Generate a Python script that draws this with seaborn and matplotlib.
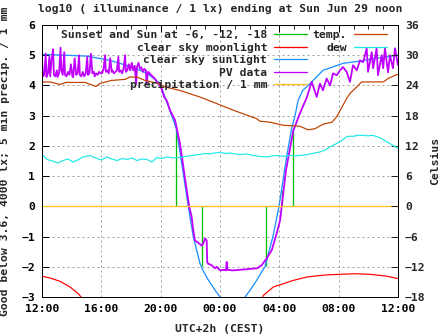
import numpy as np
import pandas as pd
import matplotlib
matplotlib.use("Agg")
import matplotlib.pyplot as plt
import seaborn as sns
from matplotlib.lines import Line2D
from matplotlib.ticker import MultipleLocator

# ---------------- data (hours since 12:00 noon) ----------------
tick_hours = [0, 4, 8, 12, 16, 20, 24]
tick_labels = ["12:00", "16:00", "20:00", "00:00", "04:00", "08:00", "12:00"]

sun_t = [0.0, 3.03, 4.58, 6.13, 7.08, 7.96, 8.41, 8.74, 9.05, 9.42, 9.86, 10.2, 10.65,
         10.85, 11.19, 11.46, 11.73, 12.0, 12.3, 13.4, 13.69, 14.02, 14.47, 14.81, 15.03,
         15.57, 15.98, 16.49, 16.83, 17.06, 17.26, 17.58, 18.07, 18.94, 20.29, 21.44,
         22.58, 24.0]
sun_v = [5.03, 4.97, 4.83, 4.6, 4.4, 4.07, 3.45, 3.0, 2.58, 1.42, 0.0, -1.0, -1.89,
         -2.12, -2.42, -2.62, -2.82, -3.0, -3.3, -3.3, -3.0, -2.78, -2.45, -2.17, -2.0,
         -1.0, 0.0, 1.63, 2.58, 3.0, 3.5, 3.84, 4.06, 4.5, 4.73, 4.81, 4.9, 5.0]

moon_t = [0.0, 0.6, 1.21, 1.89, 2.43, 2.63, 3.0, 14.6, 14.83, 14.92, 15.59, 16.27, 16.94,
          17.85, 18.5, 19.2, 20.02, 21.1, 22.11, 23.24, 24.0]
moon_v = [-2.31, -2.38, -2.48, -2.67, -2.88, -3.0, -3.3, -3.3, -3.05, -2.95, -2.67, -2.56,
          -2.45, -2.34, -2.3, -2.27, -2.25, -2.23, -2.25, -2.31, -2.39]

pv_t = [0.00, 0.05, 0.15, 0.25, 0.30, 0.40, 0.50, 0.55, 0.65, 0.75, 0.80, 0.90, 1.00, 1.05,
        1.15, 1.25, 1.30, 1.40, 1.50, 1.55, 1.65, 1.75, 1.85, 1.95, 2.05, 2.10, 2.20, 2.30,
        2.40, 2.50, 2.55, 2.65, 2.75, 2.85, 2.95, 3.05, 3.10, 3.20, 3.30, 3.40, 3.50, 3.55,
        3.65, 3.75, 3.85, 3.95, 4.05, 4.15, 4.25, 4.30, 4.40, 4.50, 4.60, 4.70, 4.75, 4.85,
        4.95, 5.05, 5.15, 5.20, 5.30, 5.40, 5.50, 5.60, 5.65, 5.75, 5.85, 5.95, 6.05, 6.15,
        6.25, 6.35, 6.40, 6.50, 6.60, 6.70, 6.80, 6.90, 7.00, 7.05, 7.15, 7.25, 7.35, 7.45,
        7.55, 7.65, 7.75, 7.85, 7.95, 8.05, 8.15, 8.25, 8.35, 8.45, 8.55, 8.63,
        8.97, 9.30, 9.53, 9.76, 9.93, 10.09, 10.18, 10.31, 10.52, 10.77, 10.87, 10.99, 11.10,
        11.14, 11.21, 11.44, 11.66, 11.78, 12.00, 12.27, 12.40, 12.45, 12.50, 12.88, 13.35,
        14.02, 14.50, 14.81, 15.15, 15.49, 15.82, 16.05, 16.45, 16.94, 17.39, 17.85, 18.18,
        18.52, 18.74, 18.94, 19.19, 19.42, 19.62, 19.87, 20.09, 20.29, 20.54, 20.76, 20.97,
        21.22, 21.44, 21.65, 21.89, 21.98, 22.23, 22.32, 22.56, 22.65, 22.90, 23.00, 23.12,
        23.33, 23.46, 23.66, 23.80, 24.00]
pv_v = [4.95, 4.30, 4.35, 5.05, 4.28, 4.40, 4.95, 4.30, 4.85, 5.20, 4.35, 4.30, 4.50, 4.28,
        4.40, 5.25, 4.50, 4.35, 5.10, 4.35, 4.30, 4.45, 4.35, 4.70, 4.30, 4.27, 4.90, 4.35,
        4.40, 5.00, 4.35, 4.30, 4.45, 4.30, 4.40, 4.95, 4.35, 4.40, 5.05, 4.40, 4.45, 4.30,
        4.40, 4.35, 4.45, 4.40, 4.40, 4.55, 5.00, 4.45, 4.50, 4.40, 4.90, 4.45, 4.50, 4.40,
        4.45, 4.50, 4.95, 4.45, 4.50, 4.40, 4.55, 5.00, 4.45, 4.50, 4.70, 4.50, 4.75, 4.50,
        4.65, 4.05, 4.60, 4.75, 4.55, 4.60, 4.45, 4.55, 4.50, 4.05, 4.45, 4.40, 4.35, 4.30,
        4.25, 4.20, 4.10, 4.05, 4.00, 3.90, 3.75, 3.60, 3.55, 3.45, 3.30, 3.18,
        2.85, 2.08, 1.30, 0.53, -0.02, -0.35, -0.73, -1.13, -1.20, -1.30, -1.23, -1.06, -1.13,
        -1.85, -1.90, -1.95, -2.05, -2.00, -2.12, -2.10, -2.12, -1.84, -2.10, -2.12, -2.10,
        -2.07, -2.05, -1.95, -1.72, -1.45, -0.90, -0.46, 1.20, 2.50, 3.08, 3.60, 4.12,
        3.62, 4.06, 3.84, 4.23, 4.00, 4.40, 4.34, 4.50, 4.61, 4.45, 4.12, 4.67,
        4.50, 4.83, 4.77, 5.23, 4.45, 5.10, 4.57, 5.23, 4.34, 5.00, 4.57, 5.23,
        4.43, 5.00, 4.57, 5.23, 4.67]

precip_t = [0.0, 24.0]
precip_v = [0.0, 0.0]

temp_t = [0.0, 0.54, 1.21, 1.62, 2.9, 3.64, 3.91, 4.7, 5.6, 5.93, 6.47, 6.94, 7.4, 7.82,
          8.29, 8.74, 9.3, 10.65, 11.78, 12.88, 14.47, 14.7, 15.37, 16.25, 17.39, 17.93,
          18.4, 18.94, 19.55, 19.87, 20.54, 20.76, 21.22, 21.55, 22.56, 23.01, 23.35, 23.8, 24.0]
temp_c = [24.7, 24.7, 24.2, 24.6, 24.6, 23.8, 24.4, 25.0, 25.2, 25.7, 25.6, 25.0, 24.7, 24.4,
          23.7, 23.4, 23.0, 21.7, 20.4, 19.1, 17.4, 16.9, 16.7, 16.1, 15.9, 15.2,
          15.4, 16.3, 16.7, 17.8, 21.4, 22.4, 23.7, 24.7, 24.7, 24.7, 25.4, 26.0, 26.2]

dew_t = [0.07, 0.34, 0.7, 1.08, 1.42, 1.75, 2.09, 2.4, 2.76, 3.24, 3.71, 4.0, 4.38, 4.7,
         5.06, 5.4, 5.73, 6.05, 6.4, 6.75, 7.08, 7.42, 7.75, 8.1, 8.43, 8.85, 9.3, 9.65,
         9.98, 10.3, 10.65, 11.0, 11.33, 11.65, 12.0, 12.35, 12.67, 13.0, 13.35, 13.8, 14.22,
         14.7, 15.17, 15.5, 15.84, 16.3, 16.72, 17.05, 17.39, 17.7, 18.07, 18.4, 18.74, 19.1,
         19.42, 19.75, 20.09, 20.56, 20.97, 21.3, 21.64, 22.0, 22.31, 22.79, 23.26, 23.66, 24.0]
dew_c = [10.1, 9.3, 9.0, 8.6, 9.1, 9.4, 8.8, 9.2, 9.8, 10.1, 9.5, 9.2, 9.8, 9.4,
         9.1, 9.5, 9.3, 9.6, 9.1, 9.4, 9.3, 8.8, 9.7, 9.5, 9.8, 9.6, 9.7, 9.9,
         10.0, 10.2, 10.3, 10.5, 10.4, 10.6, 10.7, 10.5, 10.6, 10.4, 10.3, 10.4, 10.1,
         9.9, 9.8, 10.0, 10.1, 9.9, 10.1, 10.0, 10.1, 10.2, 10.4, 10.6, 10.8, 11.2,
         11.8, 12.3, 12.8, 13.9, 13.9, 14.1, 14.1, 14.0, 14.1, 13.6, 12.8, 12.1, 11.5]

sun_event_t = [9.06, 10.81, 15.12, 16.2, 16.9]
sun_event_top = [2.58, -1.98, -1.98, 0.55, 2.58]

# ---------------- style ----------------
sns.set_style("white")
FONT = ["DejaVu Sans Mono", "Liberation Mono"]
plt.rcParams["font.family"] = FONT
plt.rcParams["font.weight"] = "bold"
plt.rcParams["font.size"] = 8.2

C_GREEN = "#00c000"
C_RED = "#ff0000"
C_BLUE = "#1e90ff"
C_PURPLE = "#c000ff"
C_ORANGE = "#ffc020"
C_BROWN = "#c04000"
C_CYAN = "#20e8e8"
PX = 0.72  # 1 pixel in points at dpi 100

fig = plt.figure(figsize=(4.47, 3.35), dpi=100)
ax = fig.add_axes([42 / 447, 38 / 335, 356 / 447, 272 / 335])
ax2 = ax.twinx()

ax.set_axisbelow(True)
ax.grid(True, which="major", color="#a0a0a0", linestyle=(0, (2, 3)), linewidth=PX)

ax.vlines(sun_event_t, 0, sun_event_top, colors=C_GREEN, linewidth=1.3 * PX, zorder=2)
sns.lineplot(x=moon_t, y=moon_v, ax=ax, color=C_RED, linewidth=1.2 * PX, sort=False,
             estimator=None, zorder=3)
sns.lineplot(x=sun_t, y=sun_v, ax=ax, color=C_BLUE, linewidth=1.3 * PX, sort=False,
             estimator=None, zorder=3)
sns.lineplot(x=pv_t, y=pv_v, ax=ax, color=C_PURPLE, linewidth=1.8 * PX, sort=False,
             estimator=None, zorder=4)
sns.lineplot(x=precip_t, y=precip_v, ax=ax, color=C_ORANGE, linewidth=1.3 * PX,
             sort=False, estimator=None, zorder=5)

sns.lineplot(x=temp_t, y=temp_c, ax=ax2, color=C_BROWN, linewidth=1.2 * PX, sort=False,
             estimator=None)
sns.lineplot(x=dew_t, y=dew_c, ax=ax2, color=C_CYAN, linewidth=1.2 * PX, sort=False,
             estimator=None)

ax.set_xlim(0, 24)
ax.set_ylim(-3, 6)
ax2.set_ylim(-18, 36)
ax.set_xticks(tick_hours)
ax.set_xticklabels(tick_labels)
ax.xaxis.set_minor_locator(MultipleLocator(1))
ax.set_yticks(range(-3, 7))
ax2.set_yticks(range(-18, 37, 6))

for a in (ax, ax2):
    for s in a.spines.values():
        s.set_color("black")
        s.set_linewidth(PX)
ax.tick_params(axis="both", which="major", direction="in", length=5, width=PX,
               top=True, labelsize=8.2, pad=5, colors="black")
ax.tick_params(axis="x", which="minor", direction="in", length=3, width=PX, top=True)
ax.tick_params(axis="y", which="major", right=False)
ax2.tick_params(axis="y", direction="in", length=5, width=PX, labelsize=8.2, pad=5)

ax.set_xlabel("UTC+2h (CEST)", fontsize=8.2, fontweight="bold", labelpad=7)
ax.set_ylabel("Good below 3.6, 4000 lx; 5 min precip. / 1 mm", fontsize=8.2,
              fontweight="bold", labelpad=8)
ax2.set_ylabel("Celsius", fontsize=8.2, fontweight="bold", labelpad=3)
ax.set_title("log10 ( illuminance / 1 lx) ending at Sun Jun 29 noon", fontsize=8.2,
             fontweight="bold", pad=9)

handles = [
    Line2D([], [], color=C_GREEN, linewidth=1.3 * PX),
    Line2D([], [], color=C_RED, linewidth=1.3 * PX),
    Line2D([], [], color=C_BLUE, linewidth=1.3 * PX),
    Line2D([], [], color=C_PURPLE, linewidth=1.3 * PX),
    Line2D([], [], color=C_ORANGE, linewidth=1.3 * PX),
    Line2D([], [], color=C_BROWN, linewidth=1.3 * PX),
    Line2D([], [], color=C_CYAN, linewidth=1.3 * PX),
    Line2D([], [], color="none"),
    Line2D([], [], color="none"),
    Line2D([], [], color="none"),
]
labels = ["Sunset and Sun at -6, -12, -18", "clear sky moonlight", "clear sky sunlight",
          "PV data", "precipitation / 1 mm", "temp.", "dew", " ", " ", " "]
leg = ax2.legend(handles, labels, ncol=2, markerfirst=False, frameon=False,
                 loc="upper right", bbox_to_anchor=(387 / 447, 1 - 30 / 335),
                 bbox_transform=fig.transFigure, fontsize=8.2, handlelength=2.9,
                 handletextpad=0.6, columnspacing=0.5, labelspacing=0.22,
                 borderpad=0, borderaxespad=0)
for t in leg.get_texts():
    t.set_fontweight("bold")

fig.savefig("out.png", dpi=100)
